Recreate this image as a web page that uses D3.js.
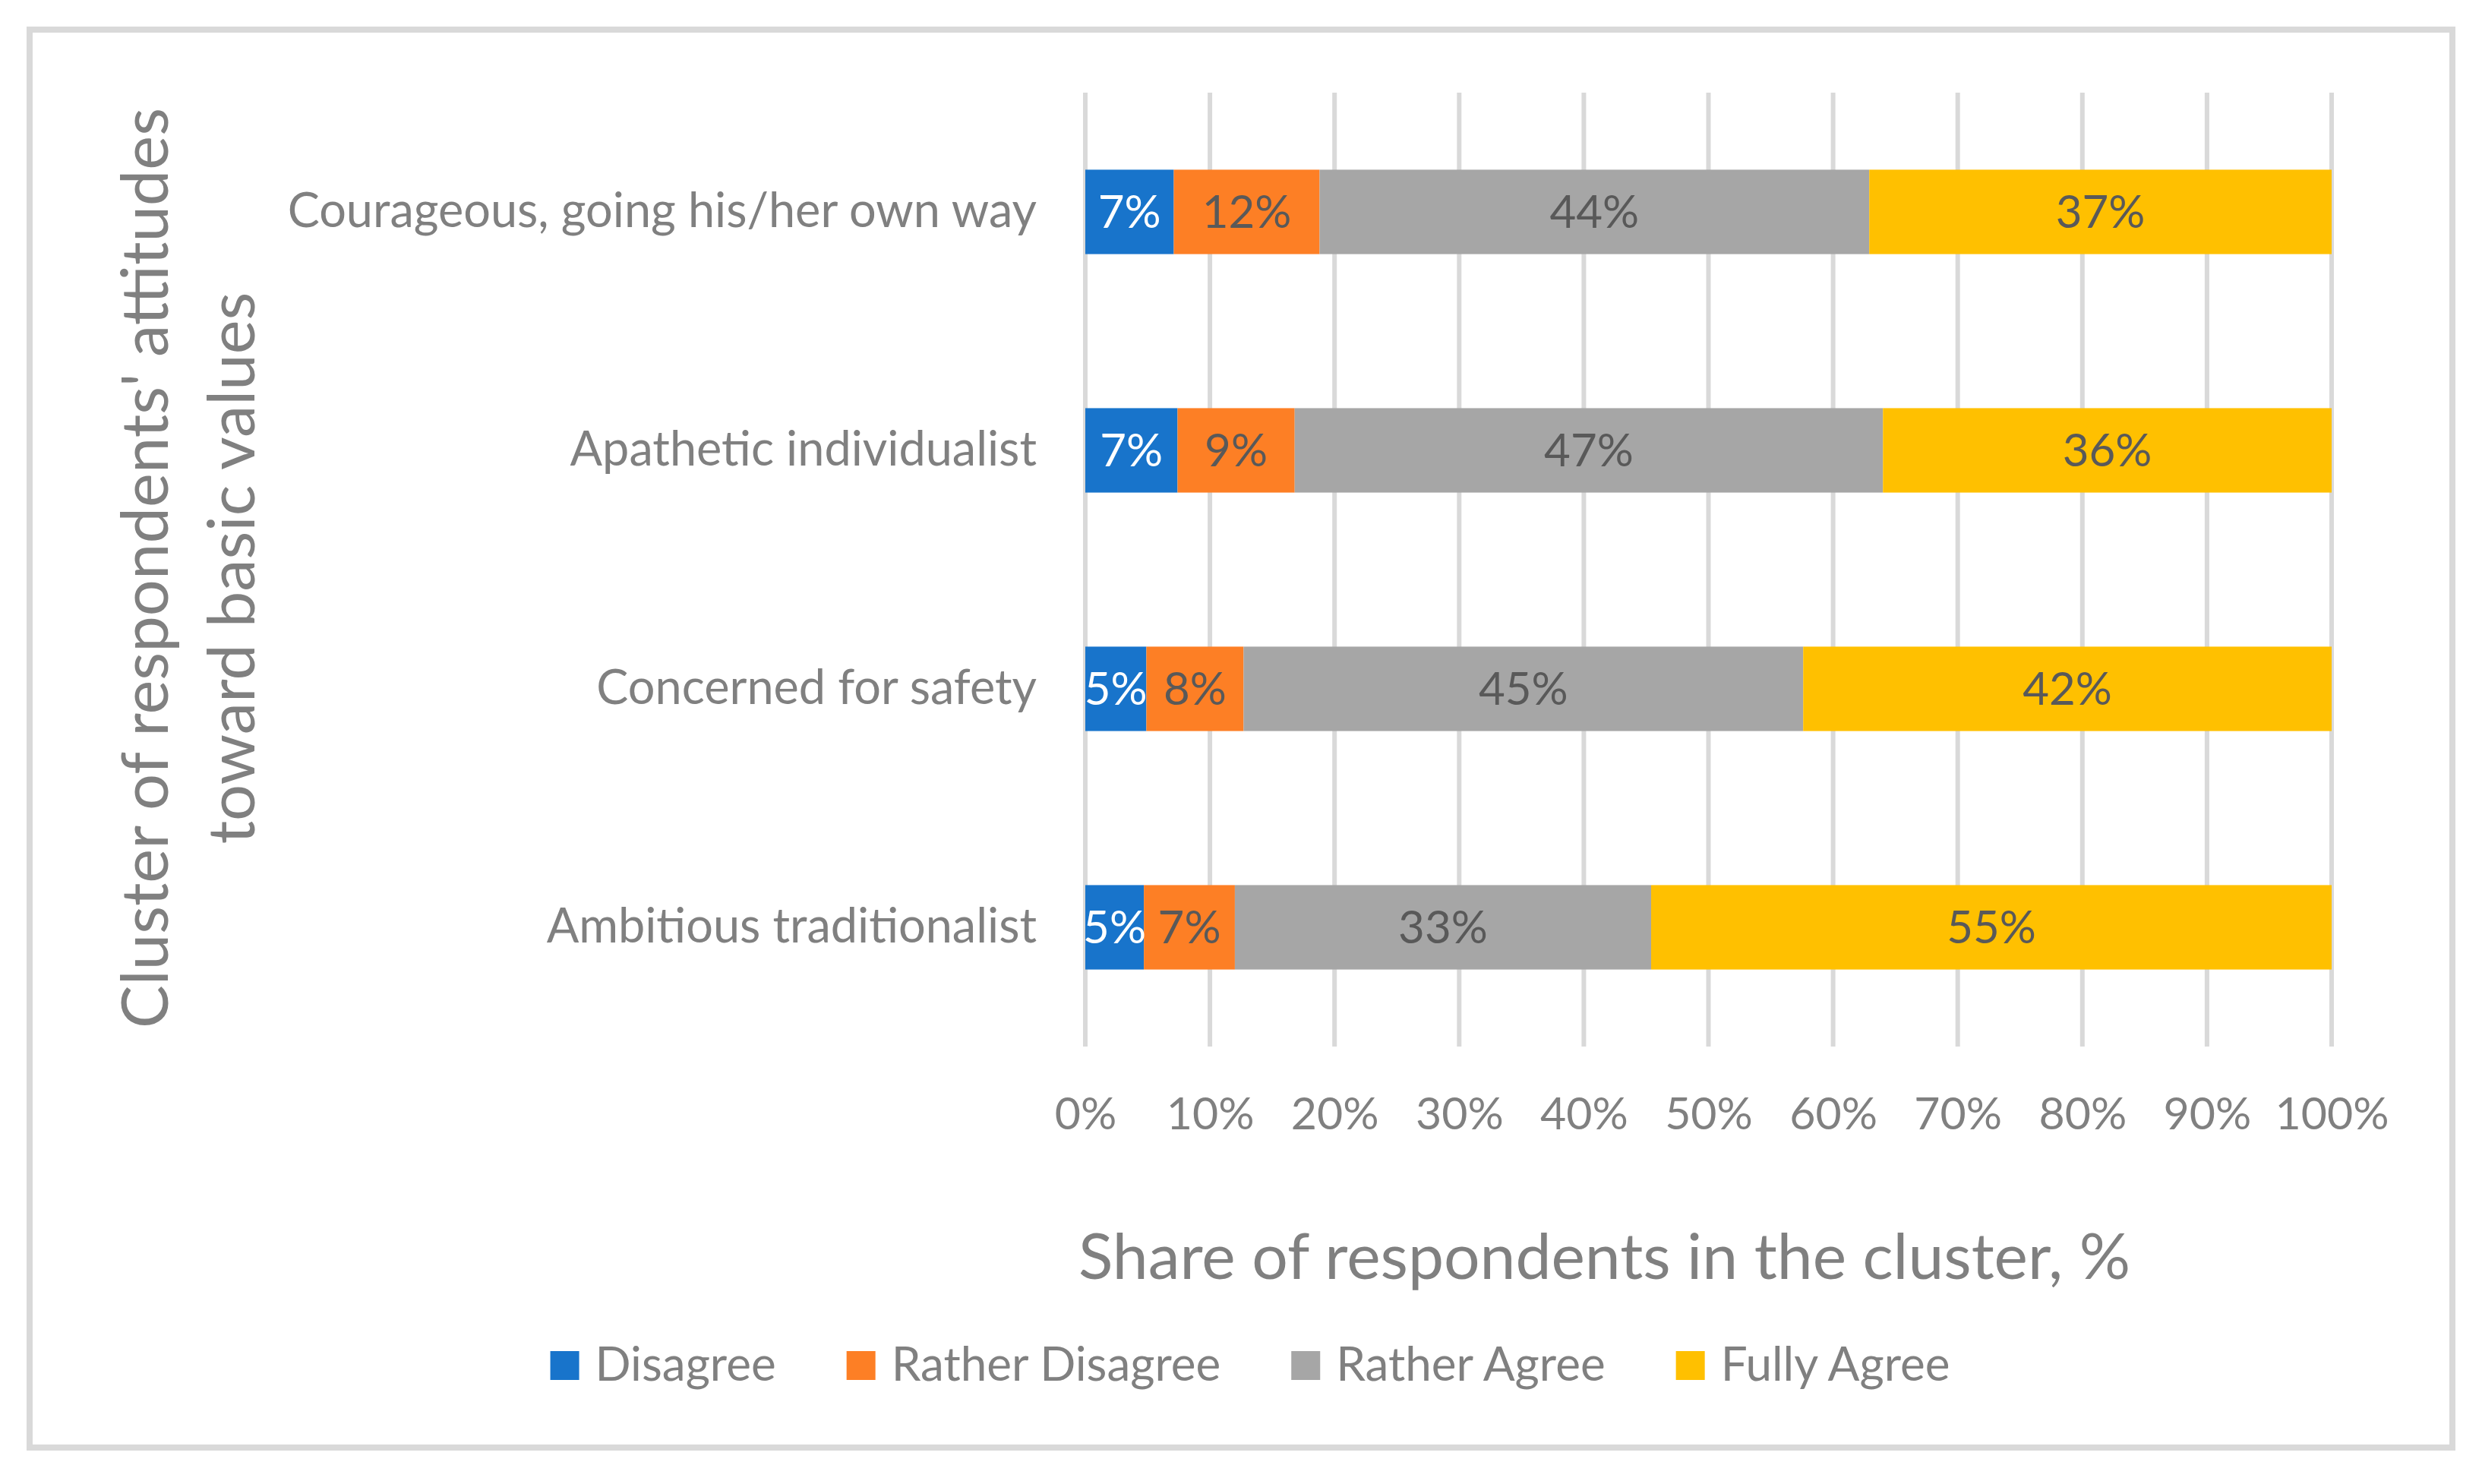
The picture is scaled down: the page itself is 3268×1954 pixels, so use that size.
<!DOCTYPE html>
<html>
<head>
<meta charset="utf-8">
<script src="https://cdn.jsdelivr.net/npm/d3@7"></script>
<style>
  html, body { margin: 0; padding: 0; background: #ffffff; }
  svg { display: block; }
  text { font-family: Lato, "Open Sans", sans-serif; }
</style>
</head>
<body>
<svg id="chart" width="3268" height="1954"></svg>
<script>
// ---- data ----
const categories = [
  "Courageous, going his/her own way",
  "Apathetic individualist",
  "Concerned for safety",
  "Ambitious traditionalist"
];
const seriesNames = ["Disagree", "Rather Disagree", "Rather Agree", "Fully Agree"];
const disagree       = [7.1, 7.4, 4.9, 4.7];
const ratherDisagree = [11.7, 9.4, 7.8, 7.3];
const ratherAgree    = [44.1, 47.2, 44.9, 33.4];
const fullyAgree     = [37.1, 36.0, 42.4, 54.6];
const xTicks = [0, 10, 20, 30, 40, 50, 60, 70, 80, 90, 100];
const xTitle = "Share of respondents in the cluster, %";
const yTitleLines = ["Cluster of respondents' attitudes", "toward basic values"];

// ---- styles ----
const colors = ["#1874cb", "#fd7f25", "#a6a6a6", "#ffc000"];
const labelColors = ["#ffffff", "#595959", "#595959", "#595959"];
const textGray = "#808080";

const svg = d3.select("#chart");
svg.append("rect").attr("x", 0).attr("y", 0).attr("width", 3268).attr("height", 1954).attr("fill", "#fff");
svg.append("rect")
  .attr("x", 39).attr("y", 39).attr("width", 3190).attr("height", 1867)
  .attr("fill", "none").attr("stroke", "#d9d9d9").attr("stroke-width", 8);

const plot = { left: 1429, right: 3070, top: 122, bottom: 1378 };

const x = d3.scaleLinear().domain([0, 100]).range([plot.left, plot.right]);
const y = d3.scaleBand().domain(categories).range([plot.top, plot.bottom])
  .paddingInner(0.646).paddingOuter(0.323);

// gridlines
svg.append("g").selectAll("line").data(xTicks).join("line")
  .attr("x1", d => x(d)).attr("x2", d => x(d))
  .attr("y1", plot.top).attr("y2", plot.bottom)
  .attr("stroke", "#d9d9d9").attr("stroke-width", 6);

// stacked data
const rows = categories.map((c, i) => ({
  cat: c,
  "Disagree": disagree[i],
  "Rather Disagree": ratherDisagree[i],
  "Rather Agree": ratherAgree[i],
  "Fully Agree": fullyAgree[i]
}));
const stacked = d3.stack().keys(seriesNames)(rows);

const layers = svg.append("g").selectAll("g").data(stacked).join("g")
  .attr("fill", (d, i) => colors[i]);
layers.selectAll("rect").data(d => d).join("rect")
  .attr("x", d => x(d[0]))
  .attr("y", d => y(d.data.cat))
  .attr("width", d => x(d[1]) - x(d[0]))
  .attr("height", y.bandwidth());

// data labels
const lbl = svg.append("g").selectAll("g").data(stacked).join("g")
  .attr("fill", (d, i) => labelColors[i]);
lbl.selectAll("text").data(d => d).join("text")
  .attr("x", d => (x(d[0]) + x(d[1])) / 2)
  .attr("y", d => y(d.data.cat) + y.bandwidth() / 2)
  .attr("dy", "0.35em")
  .attr("text-anchor", "middle")
  .attr("font-size", 60)
  .text(d => Math.round(d[1] - d[0]) + "%");

// x axis tick labels
const xAxis = d3.axisBottom(x).tickValues(xTicks).tickSize(0).tickPadding(0)
  .tickFormat(d => d + "%");
const gx = svg.append("g").attr("transform", `translate(0,${plot.bottom})`).call(xAxis);
gx.select(".domain").remove();
gx.selectAll("text").attr("font-size", 59).attr("fill", textGray)
  .attr("font-family", "Lato, 'Open Sans', sans-serif")
  .attr("y", 109).attr("dy", 0);

// y axis category labels
const yAxis = d3.axisLeft(y).tickSize(0).tickPadding(64);
const gy = svg.append("g").attr("transform", `translate(${plot.left},0)`).call(yAxis);
gy.select(".domain").remove();
gy.selectAll("text").attr("font-size", 63).attr("fill", textGray)
  .attr("font-family", "Lato, 'Open Sans', sans-serif");

// x title
svg.append("text")
  .attr("x", (plot.left + plot.right) / 2 - 137).attr("y", 1684)
  .attr("text-anchor", "middle").attr("font-size", 84).attr("fill", textGray)
  .text(xTitle);

// y title (rotated, two lines)
const yt = svg.append("text")
  .attr("transform", "translate(0,748) rotate(-90)")
  .attr("text-anchor", "middle").attr("font-size", 85).attr("fill", textGray);
yt.selectAll("tspan").data(yTitleLines).join("tspan")
  .attr("x", 0).attr("y", (d, i) => 221 + i * 114)
  .text(d => d);

// legend
const leg = svg.append("g");
const items = leg.selectAll("g").data(seriesNames).join("g");
items.append("rect").attr("width", 38).attr("height", 38).attr("y", 1779)
  .attr("fill", (d, i) => colors[i]);
items.append("text").attr("y", 1818).attr("font-size", 62).attr("fill", textGray)
  .text(d => d);
let cx = 0;
const offsets = [];
items.each(function (d) {
  const w = d3.select(this).select("text").node().getComputedTextLength();
  offsets.push(cx);
  cx += 38 + 21 + w + 93;
});
const totalW = cx - 93;
const startX = 1646 - totalW / 2;
items.each(function (d, i) {
  const g = d3.select(this);
  g.select("rect").attr("x", startX + offsets[i]);
  g.select("text").attr("x", startX + offsets[i] + 59);
});
</script>
</body>
</html>
